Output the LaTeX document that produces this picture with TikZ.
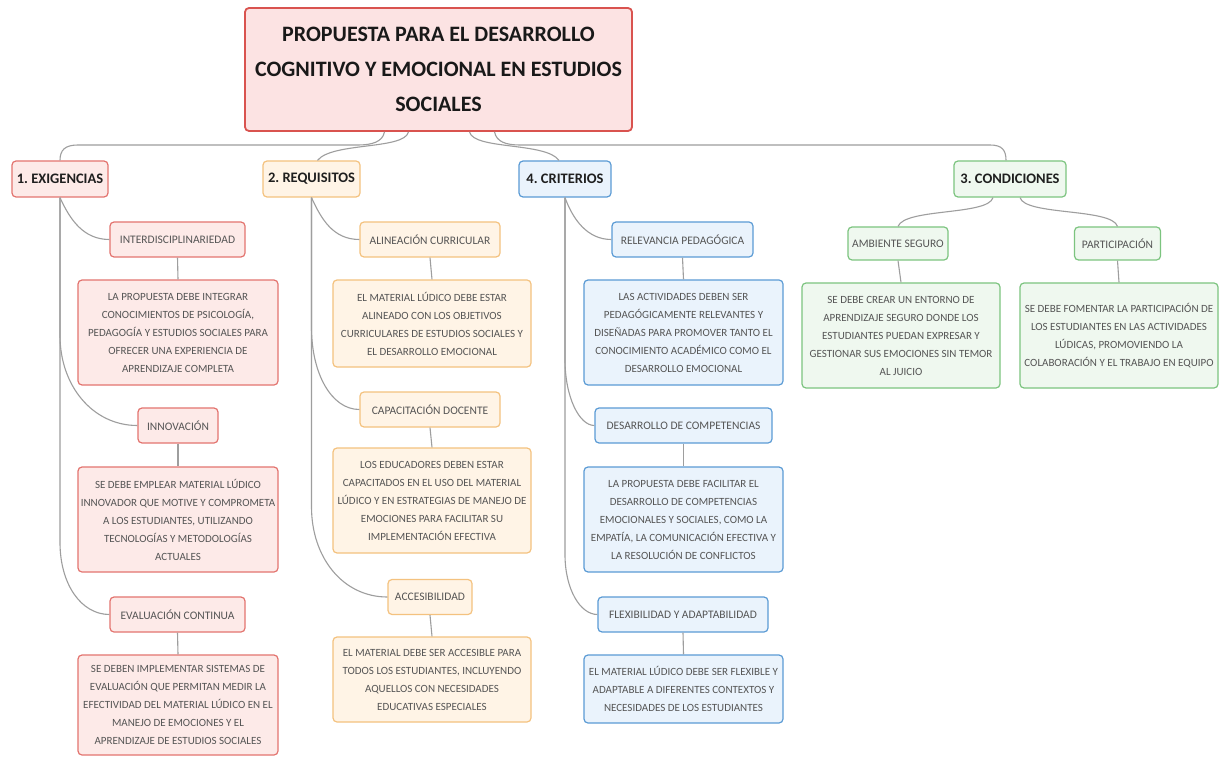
\documentclass[tikz,border=0pt]{standalone}
\usepackage{fontspec}
\setmainfont{Carlito}
\frenchspacing
\definecolor{rootfill}{HTML}{FCE3E3}
\definecolor{rootdraw}{HTML}{D9534F}
\definecolor{rfill}{HTML}{FDEAE8}
\definecolor{rdraw}{HTML}{E3746F}
\definecolor{ofill}{HTML}{FFF4E6}
\definecolor{odraw}{HTML}{F4C27F}
\definecolor{bfill}{HTML}{EAF3FC}
\definecolor{bdraw}{HTML}{5B9BD5}
\definecolor{gfill}{HTML}{EFF8EF}
\definecolor{gdraw}{HTML}{7CC47F}
\definecolor{linec}{HTML}{9E9E9E}
\definecolor{txt}{HTML}{555555}
\newcommand{\branchlink}[5]{%
  \coordinate (bl-#2) at (#1.south |- #2.west);
  \draw[conn] (#1.south) -- ([yshift=#3pt]bl-#2) .. controls ([yshift=#4pt]bl-#2) and ([xshift=-#5pt]#2.west) .. (#2.west);
}
\begin{document}
\begin{tikzpicture}[x=1pt,y=-1pt,
  box/.style={rounded corners=4pt, line width=1.2pt, align=center, inner sep=2pt},
  rootbox/.style={box, fill=rootfill, draw=rootdraw, line width=1.8pt, minimum width=387pt, minimum height=123pt, font=\fontsize{22}{35}\selectfont\bfseries, text=black!90},
  cat/.style={box, font=\fontsize{14.5}{16}\selectfont\bfseries, text=black!88, minimum height=36pt},
  lab/.style={box, font=\fontsize{11.5}{14}\selectfont, text=txt, minimum height=35pt},
  desc/.style={box, font=\fontsize{11}{18}\selectfont, text=txt, minimum width=200pt},
  tred/.style={fill=rfill, draw=rdraw},
  tora/.style={fill=ofill, draw=odraw},
  tblu/.style={fill=bfill, draw=bdraw},
  tgrn/.style={fill=gfill, draw=gdraw},
  conn/.style={draw=linec, line width=1.1pt}
]
\useasboundingbox[fill=white] (0,0) rectangle (1220,759);

% root
\node[rootbox] (root) at (438.5,69.5) {PROPUESTA PARA EL DESARROLLO\\COGNITIVO Y EMOCIONAL EN ESTUDIOS\\SOCIALES};

% categories
\node[cat, tred, minimum width=96pt] (exi) at (60,179) {1. EXIGENCIAS};
\node[cat, tora, minimum width=97pt] (req) at (311.5,179) {2. REQUISITOS};
\node[cat, tblu, minimum width=92pt] (cri) at (565,179) {4. CRITERIOS};
\node[cat, tgrn, minimum width=112pt] (con) at (1010,179) {3. CONDICIONES};

% column 1
\node[lab, tred, minimum width=135pt] (inter) at (177.5,239.5) {INTERDISCIPLINARIEDAD};
\node[desc, tred, minimum height=105pt] (d1) at (178,332.5) {LA PROPUESTA DEBE INTEGRAR\\CONOCIMIENTOS DE PSICOLOGÍA,\\PEDAGOGÍA Y ESTUDIOS SOCIALES PARA\\OFRECER UNA EXPERIENCIA DE\\APRENDIZAJE COMPLETA};
\node[lab, tred, minimum width=80pt] (inno) at (178,425.5) {INNOVACIÓN};
\node[desc, tred, minimum height=105pt] (d2) at (178,519.5) {SE DEBE EMPLEAR MATERIAL LÚDICO\\INNOVADOR QUE MOTIVE Y COMPROMETA\\A LOS ESTUDIANTES, UTILIZANDO\\TECNOLOGÍAS Y METODOLOGÍAS\\ACTUALES};
\node[lab, tred, minimum width=135pt] (eval) at (177.5,614.5) {EVALUACIÓN CONTINUA};
\node[desc, tred, minimum height=100pt] (d3) at (178,705) {SE DEBEN IMPLEMENTAR SISTEMAS DE\\EVALUACIÓN QUE PERMITAN MEDIR LA\\EFECTIVIDAD DEL MATERIAL LÚDICO EN EL\\MANEJO DE EMOCIONES Y EL\\APRENDIZAJE DE ESTUDIOS SOCIALES};

% column 2
\node[lab, tora, minimum width=140pt] (ali) at (430,239.5) {ALINEACIÓN CURRICULAR};
\node[desc, tora, minimum width=198pt, minimum height=87pt] (r1) at (432,323.5) {EL MATERIAL LÚDICO DEBE ESTAR\\ALINEADO CON LOS OBJETIVOS\\CURRICULARES DE ESTUDIOS SOCIALES Y\\EL DESARROLLO EMOCIONAL};
\node[lab, tora, minimum width=140pt] (cap) at (430,409.5) {CAPACITACIÓN DOCENTE};
\node[desc, tora, minimum width=198pt, minimum height=105pt] (r2) at (432,500.5) {LOS EDUCADORES DEBEN ESTAR\\CAPACITADOS EN EL USO DEL MATERIAL\\LÚDICO Y EN ESTRATEGIAS DE MANEJO DE\\EMOCIONES PARA FACILITAR SU\\IMPLEMENTACIÓN EFECTIVA};
\node[lab, tora, minimum width=84pt] (acc) at (430,597) {ACCESIBILIDAD};
\node[desc, tora, minimum width=198pt, minimum height=85pt] (r3) at (432,679.5) {EL MATERIAL DEBE SER ACCESIBLE PARA\\TODOS LOS ESTUDIANTES, INCLUYENDO\\AQUELLOS CON NECESIDADES\\EDUCATIVAS ESPECIALES};

% column 3
\node[lab, tblu, minimum width=141pt] (rel) at (682.5,239.5) {RELEVANCIA PEDAGÓGICA};
\node[desc, tblu, minimum width=199pt, minimum height=105pt] (c1) at (683.5,332.5) {LAS ACTIVIDADES DEBEN SER\\PEDAGÓGICAMENTE RELEVANTES Y\\DISEÑADAS PARA PROMOVER TANTO EL\\CONOCIMIENTO ACADÉMICO COMO EL\\DESARROLLO EMOCIONAL};
\node[lab, tblu, minimum width=177pt] (des) at (683.5,425.5) {DESARROLLO DE COMPETENCIAS};
\node[desc, tblu, minimum width=199pt, minimum height=105pt] (c2) at (683.5,519.5) {LA PROPUESTA DEBE FACILITAR EL\\DESARROLLO DE COMPETENCIAS\\EMOCIONALES Y SOCIALES, COMO LA\\EMPATÍA, LA COMUNICACIÓN EFECTIVA Y\\LA RESOLUCIÓN DE CONFLICTOS};
\node[lab, tblu, minimum width=170pt] (fle) at (683,614.5) {FLEXIBILIDAD Y ADAPTABILIDAD};
\node[desc, tblu, minimum width=199pt, minimum height=68pt] (c3) at (683.5,689) {EL MATERIAL LÚDICO DEBE SER FLEXIBLE Y\\ADAPTABLE A DIFERENTES CONTEXTOS Y\\NECESIDADES DE LOS ESTUDIANTES};

% column 4
\node[lab, tgrn, minimum width=100pt, minimum height=33pt] (amb) at (898,243.5) {AMBIENTE SEGURO};
\node[desc, tgrn, minimum width=198pt, minimum height=105pt] (g1) at (901,335.5) {SE DEBE CREAR UN ENTORNO DE\\APRENDIZAJE SEGURO DONDE LOS\\ESTUDIANTES PUEDAN EXPRESAR Y\\GESTIONAR SUS EMOCIONES SIN TEMOR\\AL JUICIO};
\node[lab, tgrn, minimum width=86pt, minimum height=33pt] (par) at (1117.5,243.5) {PARTICIPACIÓN};
\node[desc, tgrn, minimum width=198pt, minimum height=105pt] (g2) at (1119,335.5) {SE DEBE FOMENTAR LA PARTICIPACIÓN DE\\LOS ESTUDIANTES EN LAS ACTIVIDADES\\LÚDICAS, PROMOVIENDO LA\\COLABORACIÓN Y EL TRABAJO EN EQUIPO};

% root connectors
\draw[conn] ([xshift=-54pt]root.south) .. controls ([xshift=-56pt,yshift=-10pt]root.south) and (372,145) .. (358,145) -- (78,145) .. controls (65,145) and (60,150) .. (exi.north);
\draw[conn] ([xshift=-30pt]root.south) .. controls ([xshift=-34pt,yshift=-18pt]root.south) and (332,142) .. ([xshift=6pt]req.north);
\draw[conn] ([xshift=31pt]root.south) .. controls ([xshift=35pt,yshift=-18pt]root.south) and (546,142) .. ([xshift=-6pt]cri.north);
\draw[conn] ([xshift=56pt]root.south) .. controls ([xshift=58pt,yshift=-10pt]root.south) and (506,145) .. (520,145) -- (990,145) .. controls (1002,145) and (1006,150) .. ([xshift=-4pt]con.north);

% column 4 connectors
\draw[conn] ([xshift=-17pt]con.south) .. controls ([xshift=-22pt,yshift=-18pt]con.south) and (905,208) .. (amb.north);
\draw[conn] ([xshift=10pt]con.south) .. controls ([xshift=15pt,yshift=-18pt]con.south) and (1112,208) .. (par.north);

% branch connectors
\draw[conn] (exi.south) .. controls ([xshift=10pt,yshift=-22pt]exi.south) and ([xshift=-26pt]inter.west) .. (inter.west);
\branchlink{exi}{inno}{90}{40}{45}
\branchlink{exi}{eval}{72}{30}{28}
\draw[conn] (req.south) .. controls ([xshift=10pt,yshift=-22pt]req.south) and ([xshift=-26pt]ali.west) .. (ali.west);
\branchlink{req}{cap}{82}{36}{28}
\branchlink{req}{acc}{90}{40}{45}
\draw[conn] (cri.south) .. controls ([xshift=8pt,yshift=-22pt]cri.south) and ([xshift=-24pt]rel.west) .. (rel.west);
\branchlink{cri}{des}{66}{28}{15}
\branchlink{cri}{fle}{60}{25}{17}

% label to description connectors
\draw[conn] (inter.south) -- (d1.north);
\draw[conn] (inno.south) -- (d2.north);
\draw[conn] (eval.south) -- (d3.north);
\draw[conn] (ali.south) -- (r1.north);
\draw[conn] (cap.south) -- (r2.north);
\draw[conn] (acc.south) -- (r3.north);
\draw[conn] (rel.south) -- (c1.north);
\draw[conn] (des.south) -- (c2.north);
\draw[conn] (fle.south) -- (c3.north);
\draw[conn] (amb.south) -- (g1.north);
\draw[conn] (par.south) -- (g2.north);
\end{tikzpicture}
\end{document}
